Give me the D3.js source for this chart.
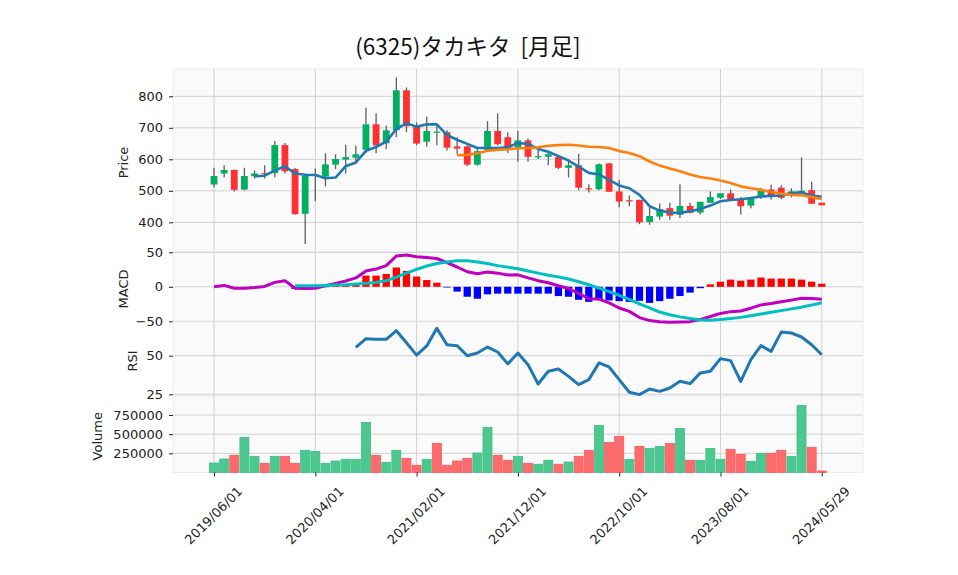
<!DOCTYPE html>
<html><head><meta charset="utf-8">
<script src="https://cdn.jsdelivr.net/npm/d3@7"></script>
<style>body{margin:0;background:#fff;} svg{display:block;}</style>
</head><body><svg id="c" width="958" height="575"></svg>
<script>
// ---- data ----
const titleText = "(6325)タカキタ  [月足]";
const tickIdx = [0,10,20,30,40,50,60];
const tickLabels = ["2019/06/01","2020/04/01","2021/02/01","2021/12/01","2022/10/01","2023/08/01","2024/05/29"];
const openP  = [520,555,566,504,546,556,556,645,569,427,548,545,583,599,605,630,711,651,692,819,708,656,686,686,641,641,583,630,690,670,638,660,608,608,607,573,581,508,505,587,498,470,471,401,418,445,424,452,431,462,478,492,471,453,480,504,510,490,497,502,462];
const highP  = [573,581,568,573,565,581,658,652,572,549,571,619,616,646,643,764,746,707,860,828,717,735,707,692,670,644,633,721,746,686,690,666,635,622,612,596,618,521,587,588,534,485,472,447,460,462,521,462,465,498,492,504,480,480,510,520,518,508,606,529,462];
const lowP   = [511,543,498,501,539,539,542,555,424,331,467,514,569,555,585,620,619,633,671,686,645,640,645,628,617,578,580,627,644,620,592,592,601,581,569,542,502,495,502,496,448,451,394,392,408,408,414,429,425,462,474,474,425,445,474,472,473,479,490,459,454];
const closeP = [547,566,503,547,555,553,645,562,426,547,551,584,601,607,616,711,644,692,819,705,650,690,688,637,634,583,626,690,648,635,660,608,610,616,573,581,510,506,584,497,466,468,400,420,442,421,452,430,465,480,492,474,451,474,500,485,478,498,500,459,454];
const volume = [124000,176000,224000,458000,211000,120000,211000,211000,120000,289000,276000,120000,150000,172000,172000,653000,224000,133000,289000,185000,94000,172000,380000,94000,150000,185000,254000,588000,224000,159000,211000,120000,108000,159000,108000,137000,211000,289000,614000,393000,471000,172000,341000,315000,341000,380000,575000,159000,159000,315000,172000,302000,237000,146000,250000,250000,289000,211000,875000,328000,20000];
const ma5  = [null,null,null,null,546,548,564,578,555,551,550,540,542,578,590,627,639,656,696,715,703,711,711,677,662,649,636,636,636,638,652,649,633,624,610,596,577,557,552,535,517,508,487,451,437,431,430,435,442,453,467,471,473,477,482,484,485,493,495,485,481];
const ma25 = [null,null,null,null,null,null,null,null,null,null,null,null,null,null,null,null,null,null,null,null,null,null,null,null,613,614,619,627,630,632,635,636,638,643,645,646,644,640,639,636,626,620,610,593,580,571,562,552,544,539,533,525,514,508,503,496,491,487,486,480,474];
const macd = [0,2,-2,-2,-1,0.5,6.4,8.9,-2,-2.5,-2,1.5,5,8.4,12.9,22.8,25.7,30.7,44.6,46,43.6,42.6,41,35,28.7,21.8,18.8,21.3,19.8,17,17.3,12.9,8.9,5.9,1.5,-2.5,-9.4,-17.3,-17.8,-23.3,-30.7,-35.6,-44.6,-49,-50.5,-51.5,-51,-50.5,-47.5,-43,-38.6,-36,-35,-31,-26.2,-24.3,-21.8,-19.3,-16.5,-17,-18];
const signal = [null,null,null,null,null,null,null,null,1.5,1.5,1.5,2,2.5,3,4,5,6.4,8.9,13.9,19.8,25.2,30.2,33.7,36,37.6,37.6,36,33.7,30.7,28.5,26.2,22.8,19.8,16.8,14.4,11.4,7.4,3,-2,-6.9,-12.4,-18.3,-24.8,-30.7,-36.6,-40.6,-43.6,-46,-48,-48.5,-47.5,-46,-44.3,-42,-39.5,-37,-34.5,-32,-29.5,-26.5,-23];
const hist = [null,null,null,null,null,null,null,null,-3,-3.5,-3,-0.5,2,3,5,16.2,16.2,18.6,28,23,14.8,9.8,5.9,-1,-6.9,-14.4,-17.3,-10.9,-9.9,-9.9,-9.9,-9.9,-9.9,-9.9,-13.4,-14.4,-18.8,-21.8,-19.3,-19.8,-20.8,-21.8,-20.3,-23.3,-20.8,-17.3,-13.4,-8.4,-2,3.5,7.4,10.4,8.9,10.4,13.4,11.9,11.9,11.9,10.4,7.4,4.5];
const rsi = [null,null,null,null,null,null,null,null,null,null,null,null,null,null,55.4,61,60.6,60.6,66.2,58.4,50.4,56.3,67.7,57.1,56.5,50,51.7,55.6,52.4,44.7,51.7,44.2,31.7,39.9,41.4,36.6,31.3,34.5,45.3,42.7,34.5,26.3,24.8,28.4,26.9,29.1,33.4,31.9,38.8,39.9,48.1,46.8,33.4,47.4,56.5,52.8,65.3,64.7,62.1,57.1,50.6];
const priceTicks = [400,500,600,700,800];
const macdTicks = [-50,0,50];
const rsiTicks = [25,50];
const volTicks = [250000,500000,750000];

// ---- layout ----
const svg = d3.select('#c');
const L = 173, R = 863;
const idx = d3.range(closeP.length);
const x = d3.scaleLinear().domain([-4.05, 64.07]).range([L, R]);
const numFont = "'DejaVu Sans', sans-serif";

const panels = [
  {name:'Price', top:69, bottom:252, y:d3.scaleLinear().domain([400,800]).range([222.3,96.3]), ticks:priceTicks, fmt:d=>String(d), lx:123},
  {name:'MACD', top:252, bottom:322, y:d3.scaleLinear().domain([-50,50]).range([321.3,252.3]), ticks:macdTicks, fmt:d=>(d<0?'\u2212'+Math.abs(d):String(d)), lx:123},
  {name:'RSI', top:322, bottom:396, y:d3.scaleLinear().domain([25,50]).range([394.3,355.7]), ticks:rsiTicks, fmt:d=>String(d), lx:132},
  {name:'Volume', top:396, bottom:472.5, y:d3.scaleLinear().domain([0,750000]).range([472.5,415]), ticks:volTicks, fmt:d=>String(d), lx:97}
];

panels.forEach(p => {
  svg.append('rect').attr('x',L).attr('y',p.top).attr('width',R-L).attr('height',p.bottom-p.top)
    .attr('fill','#fafafa').attr('stroke','#ededed').attr('stroke-width',1);
  svg.append('g').selectAll('line').data(tickIdx).join('line')
    .attr('x1',d=>x(d)).attr('x2',d=>x(d)).attr('y1',p.top).attr('y2',p.bottom)
    .attr('stroke','#d0d0d0').attr('stroke-width',1);
  svg.append('g').selectAll('line').data(p.ticks).join('line')
    .attr('x1',L).attr('x2',R).attr('y1',d=>p.y(d)).attr('y2',d=>p.y(d))
    .attr('stroke','#d0d0d0').attr('stroke-width',1);
  const ax = svg.append('g').attr('transform',`translate(${L},0)`)
    .call(d3.axisLeft(p.y).tickValues(p.ticks).tickFormat(p.fmt).tickSize(4).tickPadding(6));
  ax.select('.domain').remove();
  ax.selectAll('line').attr('stroke','#222');
  ax.selectAll('text').attr('font-family',numFont).attr('font-size',13).attr('fill','#222');
  svg.append('text').attr('transform',`translate(${p.lx},${(p.top+p.bottom)/2+2}) rotate(-90)`)
    .attr('text-anchor','middle').attr('dominant-baseline','central')
    .attr('font-family',numFont).attr('font-size',13).attr('fill','#222').text(p.name);
});

const [pp, pm, pr, pv] = panels;

// ---- candles ----
const upC = '#00b060', dnC = '#fe3032';
const cw = 6.8;
const cg = svg.append('g');
cg.selectAll('line').data(idx).join('line')
  .attr('x1',i=>x(i)).attr('x2',i=>x(i)).attr('y1',i=>pp.y(highP[i])).attr('y2',i=>pp.y(lowP[i]))
  .attr('stroke','#606060').attr('stroke-width',1.3);
cg.selectAll('rect').data(idx).join('rect')
  .attr('x',i=>x(i)-cw/2).attr('width',cw)
  .attr('y',i=>pp.y(Math.max(openP[i],closeP[i])))
  .attr('height',i=>Math.max(1.2, Math.abs(pp.y(openP[i])-pp.y(closeP[i]))))
  .attr('fill',i=>closeP[i]>=openP[i]?upC:dnC);

function drawLine(data, yScale, color, w){
  const line = d3.line().defined(d=>d!=null).x((d,i)=>x(i)).y(d=>yScale(d));
  svg.append('path').datum(data).attr('d',line).attr('fill','none')
    .attr('stroke',color).attr('stroke-width',w).attr('stroke-linejoin','round').attr('stroke-linecap','butt');
}
drawLine(ma5, pp.y, '#1f77b4', 2.6);
drawLine(ma25, pp.y, '#ff7f0e', 2.6);

// ---- MACD ----
const hw = 7.3;
svg.append('g').selectAll('rect').data(idx.filter(i=>hist[i]!=null)).join('rect')
  .attr('x',i=>x(i)-hw/2).attr('width',hw)
  .attr('y',i=>Math.min(pm.y(0),pm.y(hist[i])))
  .attr('height',i=>Math.abs(pm.y(hist[i])-pm.y(0)))
  .attr('fill',i=>hist[i]>=0?'#ff0000':'#0000ff');
drawLine(macd, pm.y, '#bf00bf', 3);
drawLine(signal, pm.y, '#00bfbf', 3);

// ---- RSI ----
drawLine(rsi, pr.y, '#1f77b4', 3);

// ---- Volume ----
const vw = 9;
const volUp = i => i===0 ? closeP[i]>=openP[i] : closeP[i]>=closeP[i-1];
svg.append('g').selectAll('rect').data(idx).join('rect')
  .attr('x',i=>x(i)-vw/2).attr('width',vw)
  .attr('y',i=>pv.y(volume[i])).attr('height',i=>pv.y(0)-pv.y(volume[i]))
  .attr('fill',i=>volUp(i)?'#4dc790':'#fd6b6c')
  .attr('stroke',i=>volUp(i)?'#3fbf85':'#f75a5b')
  .attr('stroke-width',0.8);

// ---- x axis ----
const xa = svg.append('g').attr('transform',`translate(0,${pv.bottom})`)
  .call(d3.axisBottom(x).tickValues(tickIdx).tickFormat((d,i)=>tickLabels[i]).tickSize(4));
xa.select('.domain').remove();
xa.selectAll('line').attr('stroke','#222');
xa.selectAll('text').attr('y',0).attr('dy',0).attr('x',0)
  .attr('transform','translate(-1,43) rotate(-45)')
  .attr('text-anchor','middle').attr('dominant-baseline','central')
  .attr('font-family',numFont).attr('font-size',13).attr('fill','#222');

// ---- title ----
svg.append('text').attr('x',468).attr('y',45).attr('text-anchor','middle').attr('dominant-baseline','central')
  .style('white-space','pre').attr('xml:space','preserve')
  .attr('font-family',"'Noto Sans CJK JP', sans-serif").attr('font-size',22.5).attr('fill','#111').text(titleText);
</script></body></html>
